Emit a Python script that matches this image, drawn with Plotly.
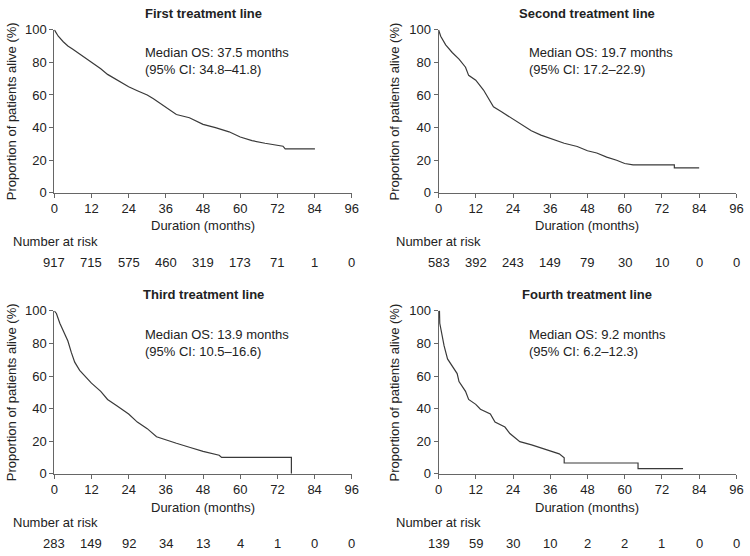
import plotly.graph_objects as go

# ---- data ----
titles = ["First treatment line", "Second treatment line", "Third treatment line", "Fourth treatment line"]
medians = ["Median OS: 37.5 months<br>(95% CI: 34.8–41.8)",
           "Median OS: 19.7 months<br>(95% CI: 17.2–22.9)",
           "Median OS: 13.9 months<br>(95% CI: 10.5–16.6)",
           "Median OS: 9.2 months<br>(95% CI: 6.2–12.3)"]

t1 = [0, 0.3, 1.3, 2.9, 4.4, 6.0, 8.7, 12, 15, 17.2, 20.3, 24, 26.8, 30, 32, 36, 39.4, 43.6, 48, 52, 56.4, 60, 63.8, 68, 72.3, 73.8, 74.5, 84.1]
s1 = [100, 99, 96, 92.6, 90, 88, 84.5, 80, 76, 72.6, 69, 65, 62.6, 60, 57.6, 52.7, 48, 46, 42, 40, 37.4, 34.2, 32, 30.4, 29.2, 28.6, 27, 27]

t2 = [0, 0.7, 2.3, 4.4, 6.6, 8.7, 9.7, 12, 14.5, 16.1, 17.7, 20.3, 24, 26.7, 29.9, 33, 36, 40.5, 44.7, 48, 51, 54.2, 57.4, 60, 62.7, 76, 76, 84]
s2 = [100, 96, 90.7, 86, 82, 77, 72, 69, 63, 58, 52.7, 49.7, 45.3, 41.7, 38, 35.4, 33.4, 30.4, 28.4, 25.8, 24.4, 21.9, 20, 18, 17.1, 17.1, 15.3, 15.3]

t3 = [0, 0.7, 1.8, 3.4, 4.4, 5.5, 6.6, 8.2, 9.7, 12, 15, 17.2, 20.3, 24, 26.8, 30, 33, 36, 39.4, 43.6, 48, 53.2, 54, 76.5, 76.5]
s3 = [100, 98.4, 92.4, 85.5, 81.5, 74.5, 68.5, 63.5, 60.5, 55.6, 50.6, 45.6, 41.6, 36.7, 31.7, 27.7, 22.7, 20.7, 18.7, 16.3, 13.7, 11.4, 10.0, 10.0, 0]

t4 = [0, 0.3, 0.4, 1.1, 1.8, 2.9, 4.4, 6.0, 6.6, 8.7, 9.7, 12, 13.5, 16.7, 18.2, 21.4, 23, 26.2, 30, 33, 36.2, 38.9, 40.5, 40.5, 64.3, 64.3, 78.8]
s4 = [100, 100, 92.4, 84.5, 78.5, 70.5, 66.5, 61.5, 56.6, 50.6, 45.6, 42.6, 39.6, 36.7, 31.7, 28.7, 24.7, 19.7, 17.7, 15.7, 13.7, 12.2, 9.8, 6.6, 6.6, 3.2, 3.2]

risk_times = [0, 12, 24, 36, 48, 60, 72, 84, 96]
risk1 = [917, 715, 575, 460, 319, 173, 71, 1, 0]
risk2 = [583, 392, 243, 149, 79, 30, 10, 0, 0]
risk3 = [283, 149, 92, 34, 13, 4, 1, 0, 0]
risk4 = [139, 59, 30, 10, 2, 2, 1, 0, 0]

xticks = [0, 12, 24, 36, 48, 60, 72, 84, 96]
yticks = [0, 20, 40, 60, 80, 100]

# ---- layout geometry (pixels) ----
W, H = 750, 556
FONT = "Liberation Sans, Arial, sans-serif"
TXT = "#222222"
AX = "#666666"
CURVE = "#3a3a3a"

panels = [
    dict(t=t1, s=s1, risk=risk1, x0=51, x1=353, ytop=23.3, ybot=191, row=0, col=0),
    dict(t=t2, s=s2, risk=risk2, x0=441, x1=743.3, ytop=23.3, ybot=191, row=0, col=1),
    dict(t=t3, s=s3, risk=risk3, x0=51, x1=353, ytop=312.3, ybot=479.7, row=1, col=0),
    dict(t=t4, s=s4, risk=risk4, x0=441, x1=743.3, ytop=312.3, ybot=479.7, row=1, col=1),
]

def py(p):
    return 1 - p / H

def px(p):
    return p / W

fig = go.Figure()
annotations = []
layout = {}
for i, p in enumerate(panels):
    n = "" if i == 0 else str(i + 1)
    fig.add_trace(go.Scatter(x=p["t"], y=p["s"], mode="lines",
                             line=dict(color=CURVE, width=1.2, shape="linear"),
                             xaxis="x" + n, yaxis="y" + n, cliponaxis=False,
                             showlegend=False, hoverinfo="skip"))
    layout["xaxis" + n] = dict(domain=[px(p["x0"]), px(p["x1"])], range=[0, 96], anchor="y" + n,
                               tickvals=xticks, ticks="outside", ticklen=4, tickcolor=AX,
                               showline=True, linecolor=AX, linewidth=1, showgrid=False,
                               zeroline=False, tickfont=dict(size=13, color=TXT, family=FONT))
    layout["yaxis" + n] = dict(domain=[py(p["ybot"]), py(p["ytop"])], range=[0, 100], anchor="x" + n,
                               tickvals=yticks, ticks="outside", ticklen=4, tickcolor=AX,
                               showline=True, linecolor=AX, linewidth=1, showgrid=False,
                               zeroline=False, tickfont=dict(size=13, color=TXT, family=FONT))
    cx = (p["x0"] + p["x1"]) / 2
    off = 0 if p["row"] == 0 else 289
    leftx = 7 if p["col"] == 0 else 396
    annotations.append(dict(text="<b>" + titles[i] + "</b>", x=px(cx), y=py(7 + off - (1 if p["row"] else 0)),
                            xref="paper", yref="paper", showarrow=False, xanchor="center", yanchor="middle",
                            font=dict(size=13, color=TXT, family=FONT)))
    annotations.append(dict(text=medians[i], x=px(p["x0"] + 90), y=py(56 + off),
                            xref="paper", yref="paper", showarrow=False, xanchor="left", yanchor="middle",
                            align="left", font=dict(size=13, color=TXT, family=FONT)))
    annotations.append(dict(text="Duration (months)", x=px(cx), y=py(225 + off),
                            xref="paper", yref="paper", showarrow=False, xanchor="center", yanchor="middle",
                            font=dict(size=13, color=TXT, family=FONT)))
    annotations.append(dict(text="Proportion of patients alive (%)", x=px(leftx), y=py((p["ytop"] + p["ybot"]) / 2),
                            xref="paper", yref="paper", showarrow=False, xanchor="center", yanchor="middle",
                            textangle=-90, font=dict(size=13, color=TXT, family=FONT)))
    annotations.append(dict(text="Number at risk", x=px(leftx), y=py(240.7 + off),
                            xref="paper", yref="paper", showarrow=False, xanchor="left", yanchor="middle",
                            font=dict(size=13, color=TXT, family=FONT)))
    for tt, rv in zip(risk_times, p["risk"]):
        annotations.append(dict(text=str(rv), x=tt, y=py(262.5 + off), xref="x" + n, yref="paper",
                                showarrow=False, xanchor="center", yanchor="middle",
                                font=dict(size=13, color=TXT, family=FONT)))

fig.update_layout(width=W, height=H, margin=dict(l=0, r=0, t=0, b=0),
                  paper_bgcolor="white", plot_bgcolor="white",
                  font=dict(family=FONT, color=TXT), annotations=annotations, **layout)

fig.write_html("out.html", config={"displayModeBar": False},
               post_script="document.body.style.margin='0';document.body.style.padding='0';"
                           "document.documentElement.style.overflow='hidden';")
